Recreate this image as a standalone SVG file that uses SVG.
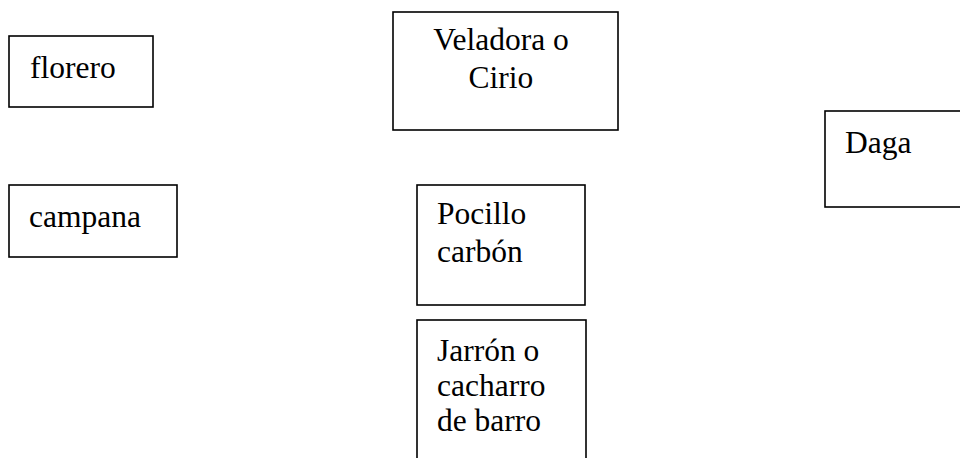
<svg xmlns="http://www.w3.org/2000/svg" width="960" height="458" viewBox="0 0 960 458">
<style>
.box{fill:#fff;stroke:#000;stroke-width:1.6}
text{font-family:"Liberation Serif","Times New Roman",serif;font-size:31.5px;fill:#000}
</style>
<rect width="960" height="458" fill="#fff"/>
<g id="connectors"></g>
<g id="florero">
<rect class="box" x="9" y="36" width="144" height="71"/>
<text x="30" y="78">florero</text>
</g>
<g id="veladora">
<rect class="box" x="393" y="12" width="225" height="118"/>
<text x="501" y="50" text-anchor="middle">Veladora o</text>
<text x="501" y="88" text-anchor="middle">Cirio</text>
</g>
<g id="daga">
<rect class="box" x="825" y="111" width="145" height="96"/>
<text x="845" y="153">Daga</text>
</g>
<g id="campana">
<rect class="box" x="9" y="185" width="168" height="72"/>
<text x="29" y="227">campana</text>
</g>
<g id="pocillo">
<rect class="box" x="417" y="185" width="168" height="120"/>
<text x="437" y="224">Pocillo</text>
<text x="437" y="262">carbón</text>
</g>
<g id="jarron">
<rect class="box" x="417" y="320" width="169" height="150"/>
<text x="437" y="361">Jarrón o</text>
<text x="437" y="396">cacharro</text>
<text x="437" y="431">de barro</text>
</g>
</svg>
